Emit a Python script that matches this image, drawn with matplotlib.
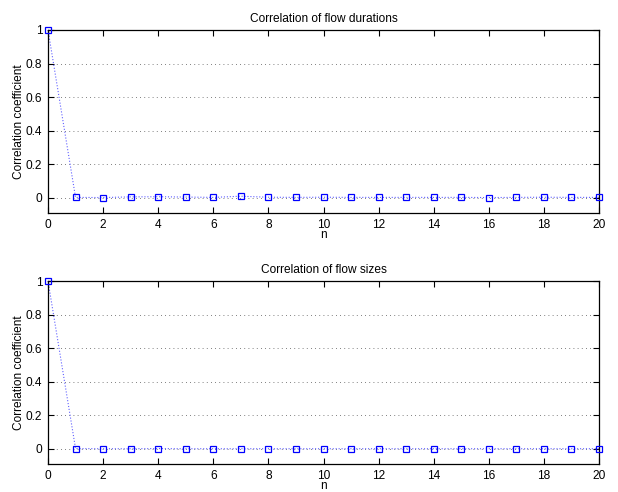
import numpy as np
import matplotlib
matplotlib.use("Agg")
import matplotlib.pyplot as plt

plt.rcParams['font.family'] = ['Liberation Sans', 'DejaVu Sans']
plt.rcParams['font.size'] = 8.6

# lag index
lags = list(range(21))

# correlation of flow durations at each lag
corr_durations = [1.0, 0.003, 0.002, 0.006, 0.007, 0.005, 0.003, 0.010, 0.004, 0.003,
                  0.004, 0.003, 0.003, 0.003, 0.003, 0.003, 0.002, 0.003, 0.004, 0.003, 0.003]

# correlation of flow sizes at each lag
corr_sizes = [1.0, 0.002, 0.001, 0.001, 0.002, 0.001, 0.001, 0.001, 0.001, 0.001,
              0.001, 0.001, 0.001, 0.001, 0.001, 0.001, 0.001, 0.001, 0.001, 0.001, 0.001]

titles = ["Correlation of flow durations", "Correlation of flow sizes"]
series = [corr_durations, corr_sizes]

fig = plt.figure(figsize=(6.18, 4.92), dpi=100)
# axes boxes in pixels: left, top, right, bottom
boxes = [(48, 30, 599, 213), (48, 281, 599, 464)]
W, H = 618, 492

for (l, t, r, b), title, vals in zip(boxes, titles, series):
    ax = fig.add_axes([l / W, 1 - b / H, (r - l) / W, (b - t) / H])
    ax.plot(lags, vals, linestyle=':', color='#6060ff', linewidth=0.8, clip_on=False)
    ax.plot(lags, vals, linestyle='none', marker='s', markersize=5,
            markerfacecolor='none', markeredgecolor='#0000ff', markeredgewidth=0.9,
            clip_on=False, zorder=5)
    ax.set_xlim(0, 20)
    ax.set_ylim(-0.09, 1)
    ax.set_xticks(np.arange(0, 21, 2))
    ax.set_yticks([0, 0.2, 0.4, 0.6, 0.8, 1])
    ax.set_yticklabels(['0', '0.2', '0.4', '0.6', '0.8', '1'])
    ax.yaxis.grid(True, linestyle=(0, (1, 4)), color='#555555', linewidth=0.6)
    ax.tick_params(direction='in', top=True, right=True, length=4, width=0.8, pad=4)
    for s in ax.spines.values():
        s.set_linewidth(0.9)
    ax.set_title(title, fontsize=8.6, pad=6)
    ax.set_xlabel('n', labelpad=-1)
    ax.set_ylabel('Correlation coefficient', labelpad=1)

fig.savefig('out.png', dpi=100, facecolor='white')
